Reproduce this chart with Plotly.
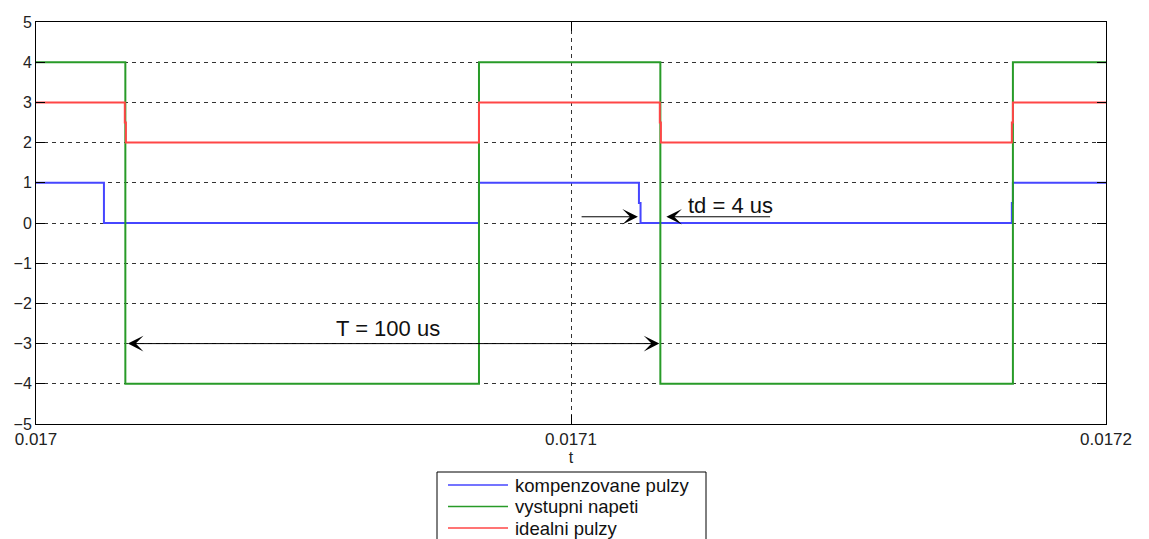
import plotly.graph_objects as go

T0 = 0.017          # start of the time window [s]
US = 1e-6           # one microsecond [s]

# Step waveforms, times in microseconds from T0
comp_t = [0, 12.7, 12.7, 82.8, 82.8, 112.7, 112.7, 113.0, 113.0, 182.4, 182.4, 182.6, 182.6, 200]
comp_v = [1, 1, 0, 0, 1, 1, 0.5, 0.5, 0, 0, 0.5, 0.5, 1, 1]

out_t = [0, 16.7, 16.7, 82.8, 82.8, 116.7, 116.7, 182.6, 182.6, 200]
out_v = [4, 4, -4, -4, 4, 4, -4, -4, 4, 4]

ideal_t = [0, 16.6, 16.6, 16.8, 16.8, 82.8, 82.8, 116.6, 116.6, 116.8, 116.8, 182.4, 182.4, 182.6, 182.6, 200]
ideal_v = [3, 3, 2.5, 2.5, 2, 2, 3, 3, 2.5, 2.5, 2, 2, 2.5, 2.5, 3, 3]

names = ["kompenzovane pulzy", "vystupni napeti", "idealni pulzy"]
colors = ["rgb(70,70,255)", "rgb(40,155,40)", "rgb(255,70,70)"]

x_ticks = [0.017, 0.0171, 0.0172]
x_ticktext = ["0.017", "0.0171", "0.0172"]
y_ticks = [-5, -4, -3, -2, -1, 0, 1, 2, 3, 4, 5]

# Dimension markers
PERIOD_US = 100
PERIOD_START_US = 16.7
PERIOD_LEVEL = -3
TD_US = 4
TD_EDGE_US = 112.7
TD_LEVEL = 0.155


def sec(ts):
    return [T0 + t * US for t in ts]


fig = go.Figure()
for ts, vs, name, col in zip([comp_t, out_t, ideal_t], [comp_v, out_v, ideal_v], names, colors):
    fig.add_trace(go.Scatter(x=sec(ts), y=vs, mode="lines", name=name,
                             line=dict(color=col, width=2), showlegend=False))

FONT = "Liberation Sans, Arial, sans-serif"
ARROW = dict(showarrow=True, arrowhead=3, arrowsize=2.6, arrowwidth=1, arrowcolor="black")
ann = []
# T = 100 us double arrow
ann.append(dict(x=T0 + (PERIOD_START_US + PERIOD_US) * US, y=PERIOD_LEVEL,
                ax=T0 + PERIOD_START_US * US, ay=PERIOD_LEVEL,
                xref="x", yref="y", axref="x", ayref="y", text="",
                arrowside="end+start", startarrowhead=3, startarrowsize=2.6,
                standoff=1, startstandoff=1, **ARROW))
ann.append(dict(x=T0 + (PERIOD_START_US + PERIOD_US / 2) * US - 0.9 * US, y=-2.62,
                xref="x", yref="y", text=f"T = {PERIOD_US} us", showarrow=False,
                font=dict(family=FONT, size=22, color="#111")))
# td = 4 us arrows
ann.append(dict(x=T0 + TD_EDGE_US * US, y=TD_LEVEL,
                ax=T0 + (TD_EDGE_US - 11) * US, ay=TD_LEVEL,
                xref="x", yref="y", axref="x", ayref="y", text="",
                standoff=1, **ARROW))
ann.append(dict(x=T0 + (TD_EDGE_US + TD_US) * US, y=TD_LEVEL,
                ax=T0 + (TD_EDGE_US + TD_US + 20.8) * US, ay=TD_LEVEL,
                xref="x", yref="y", axref="x", ayref="y", text="",
                standoff=6, **ARROW))
ann.append(dict(x=T0 + 129.8 * US, y=0.43, xref="x", yref="y",
                text=f"td = {TD_US} us", showarrow=False,
                font=dict(family=FONT, size=22, color="#111")))

# Legend box below the axes, drawn in plot-area (paper) units
PX_L, PX_W, PX_B, PX_H = 36, 1070, 424, 402


def px_x(p):
    return (p - PX_L) / PX_W


def px_y(p):
    return (PX_B - p) / PX_H


shapes = [dict(type="rect", xref="paper", yref="paper",
               x0=px_x(437), x1=px_x(706), y0=px_y(580), y1=px_y(472),
               line=dict(color="black", width=1), fillcolor="white", layer="above")]
for i, (name, col) in enumerate(zip(names, colors)):
    yy = px_y(485 + 21.5 * i)
    shapes.append(dict(type="line", xref="paper", yref="paper",
                       x0=px_x(448), x1=px_x(508), y0=yy, y1=yy,
                       line=dict(color=col, width=1.5), layer="above"))
    ann.append(dict(x=px_x(513), y=yy, xref="paper", yref="paper", text=name,
                    xanchor="left", yanchor="middle", showarrow=False,
                    font=dict(family=FONT, size=18.5, color="#111")))

fig.update_layout(
    width=1149, height=539,
    margin=dict(l=36, r=43, t=22, b=115, autoexpand=False),
    plot_bgcolor="white", paper_bgcolor="white",
    font=dict(family=FONT, size=16, color="#222"),
    annotations=ann, shapes=shapes,
    showlegend=False,
)
fig.update_xaxes(range=[0.017, 0.0172], tickvals=x_ticks, ticktext=x_ticktext,
                 showgrid=True, gridcolor="#333", griddash="4px,4px", gridwidth=1,
                 showline=True, linecolor="black", linewidth=1, mirror="ticks",
                 ticks="inside", ticklen=9, tickcolor="black", zeroline=False,
                 tickfont=dict(size=17),
                 title=dict(text="t", font=dict(size=16), standoff=2))
fig.update_yaxes(range=[-5, 5], tickvals=y_ticks,
                 showgrid=True, gridcolor="#333", griddash="4px,4px", gridwidth=1,
                 showline=True, linecolor="black", linewidth=1, mirror="ticks",
                 ticks="inside", ticklen=9, tickcolor="black", zeroline=False,
                 tickfont=dict(size=16))

fig.write_html("out.html")
